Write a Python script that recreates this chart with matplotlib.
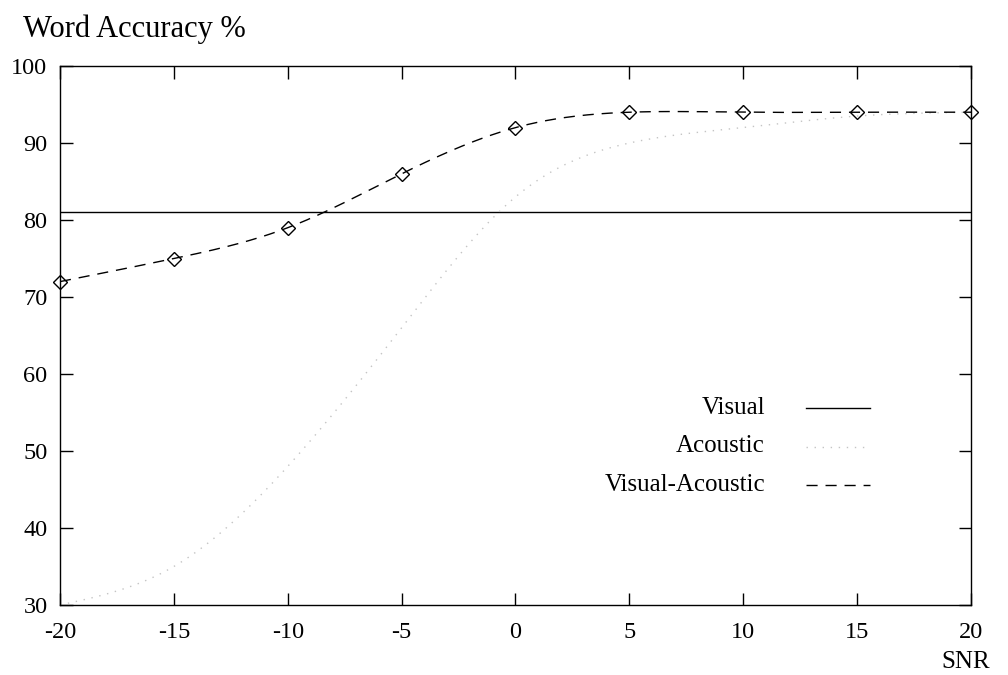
import numpy as np
import matplotlib
matplotlib.use("Agg")
import matplotlib.pyplot as plt
from matplotlib.lines import Line2D

plt.rcParams['font.family'] = ['Liberation Serif', 'DejaVu Serif']
plt.rcParams['axes.unicode_minus'] = False

snr = [-20, -15, -10, -5, 0, 5, 10, 15, 20]
visual = 81
acoustic = [30, 35, 48, 66, 83, 90, 92, 93.5, 94]
visual_acoustic = [72, 75, 79, 86, 92, 94, 94, 94, 94]
xticks = [-20, -15, -10, -5, 0, 5, 10, 15, 20]
yticks = [30, 40, 50, 60, 70, 80, 90, 100]

DOTTED = (0, (1, 4.8))
DASHED = (0, (8, 5.7))
GREY = '#c4c4c4'


def natural_spline(x, y, n=400):
    """Natural cubic spline through (x, y), evaluated on a fine grid."""
    x = np.asarray(x, float)
    y = np.asarray(y, float)
    m = len(x)
    h = np.diff(x)
    A = np.zeros((m, m))
    b = np.zeros(m)
    A[0, 0] = A[-1, -1] = 1.0
    for i in range(1, m - 1):
        A[i, i - 1] = h[i - 1]
        A[i, i] = 2 * (h[i - 1] + h[i])
        A[i, i + 1] = h[i]
        b[i] = 6 * ((y[i + 1] - y[i]) / h[i] - (y[i] - y[i - 1]) / h[i - 1])
    M = np.linalg.solve(A, b)
    xs = np.linspace(x[0], x[-1], n)
    idx = np.clip(np.searchsorted(x, xs) - 1, 0, m - 2)
    x0, x1 = x[idx], x[idx + 1]
    hh = x1 - x0
    t0, t1 = x1 - xs, xs - x0
    ys = (M[idx] * t0 ** 3 / (6 * hh) + M[idx + 1] * t1 ** 3 / (6 * hh)
          + (y[idx] / hh - M[idx] * hh / 6) * t0
          + (y[idx + 1] / hh - M[idx + 1] * hh / 6) * t1)
    return xs, ys


fig = plt.figure(figsize=(10.08, 6.75), dpi=100)
ax = fig.add_axes([0.0595, 0.1037, 0.9038, 0.7985])

ax.axhline(visual, color='black', lw=1.0)

xs, ys = natural_spline(snr, acoustic)
ax.plot(xs, ys, color=GREY, lw=1.0, linestyle=DOTTED)

xs, ys = natural_spline(snr, visual_acoustic)
ax.plot(xs, ys, color='black', lw=1.0, linestyle=DASHED)
ax.plot(snr, visual_acoustic, linestyle='none', marker='D', markersize=7.3,
        markerfacecolor='none', markeredgecolor='black', markeredgewidth=1.0,
        clip_on=False)

ax.set_xlim(-20, 20)
ax.set_ylim(30, 100)
ax.set_xticks(xticks)
ax.set_yticks(yticks)
ax.tick_params(direction='in', length=9, width=1.0, top=True, right=True,
               labelsize=17.5)
ax.tick_params(axis='x', pad=12)
ax.tick_params(axis='y', pad=9)
for s in ax.spines.values():
    s.set_linewidth(1.0)

fig.text(23 / 1008, 1 - 29 / 675, 'Word Accuracy %', fontsize=22,
         ha='left', va='center')
fig.text(990 / 1008, 1 - 662 / 675, 'SNR', fontsize=18, ha='right',
         va='center')

# key
entries = [('Visual', dict(color='black', lw=1.0, linestyle='-')),
           ('Acoustic', dict(color=GREY, lw=1.0, linestyle=DOTTED)),
           ('Visual-Acoustic', dict(color='black', lw=1.0, linestyle=DASHED))]
tr = fig.transFigure
for i, (lab, kw) in enumerate(entries):
    yy = 1 - (408 + 38.5 * i) / 675
    fig.text(765 / 1008, yy, lab, fontsize=18, ha='right', va='center')
    fig.add_artist(Line2D([806 / 1008, 870 / 1008], [yy, yy], transform=tr,
                          **kw))

fig.savefig('out.png', dpi=100)
